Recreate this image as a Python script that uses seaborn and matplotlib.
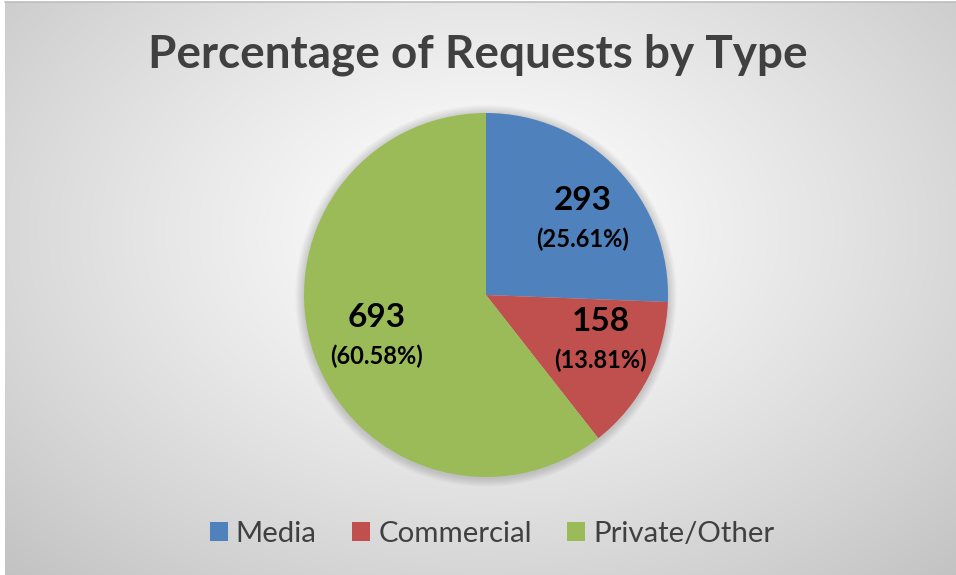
import numpy as np
import matplotlib
matplotlib.use("Agg")
import matplotlib.pyplot as plt
from matplotlib.patches import Patch, Circle
import seaborn as sns

categories = ["Media", "Commercial", "Private/Other"]
counts = [293, 158, 693]
percent_labels = ["25.61%", "13.81%", "60.58%"]
colors = ["#4F81BD", "#C0504D", "#9BBB59"]
title = "Percentage of Requests by Type"

sns.set_theme(style="white")
plt.rcParams["font.family"] = ["Lato", "DejaVu Sans"]

W, H = 956, 575
fig = plt.figure(figsize=(W / 100, H / 100), dpi=100)

# background: soft radial gradient
bg = fig.add_axes([5 / W, 0, (W - 5) / W, (H - 2) / H])
yy, xx = np.mgrid[0:H, 0:W - 5]
cx, cy = 478, 230
d = np.sqrt(((xx - cx) / 620.0) ** 2 + ((yy - cy) / 430.0) ** 2)
v = 1.0 - 0.21 * np.clip(d, 0, 1.3) ** 1.2
bg.imshow(np.dstack([v, v, v]), aspect="auto", extent=[0, 1, 0, 1], origin="upper")
bg.set_axis_off()
fig.add_artist(plt.Line2D([5 / W, 1], [1 - 1.5 / H, 1 - 1.5 / H], color="#bdbdbd", lw=1.2))

# pie
R = 182
cxp, cyp = 486, 295
ax = fig.add_axes([(cxp - R) / W, 1 - (cyp + R) / H, 2 * R / W, 2 * R / H])
ax.set_axis_off()
# soft shadow
for k in range(8):
    ax.add_patch(Circle((0.0, -0.005), 1.0 + 0.006 * (k + 1), color="black",
                        alpha=0.018, lw=0, zorder=0, clip_on=False))
wedges, _ = ax.pie(counts, colors=colors, startangle=90, counterclock=False,
                   radius=1.0, wedgeprops=dict(linewidth=0))
for w in wedges:
    w.set_zorder(2)
ax.set_xlim(-1, 1)
ax.set_ylim(-1, 1)
ax.set_aspect("equal")

label_r = [0.67, 0.68, 0.645]
label_dang = [-6.6, 4.6, 2.5]
for w, c, p, lr, da in zip(wedges, counts, percent_labels, label_r, label_dang):
    ang = np.deg2rad((w.theta1 + w.theta2) / 2 + da)
    x, y = lr * np.cos(ang), lr * np.sin(ang)
    ax.text(x, y + 0.115, f"{c}", ha="center", va="center", fontsize=24,
            fontweight="bold", color="black", zorder=5)
    ax.text(x, y - 0.10, f"({p})", ha="center", va="center", fontsize=17,
            fontweight="bold", color="black", zorder=5)

fig.text(0.5, 1 - 55 / H, title, ha="center", va="center", fontsize=33,
         fontweight="bold", color="#404040")

handles = [Patch(facecolor=c, edgecolor="none") for c in colors]
fig.legend(handles, categories, loc="center", bbox_to_anchor=(492 / W, 1 - 534 / H),
           ncol=3, frameon=False, fontsize=21.2, labelcolor="#404040",
           handlelength=0.62, handleheight=0.62, handletextpad=0.27, columnspacing=1.2)

fig.savefig("out.png", dpi=100)
